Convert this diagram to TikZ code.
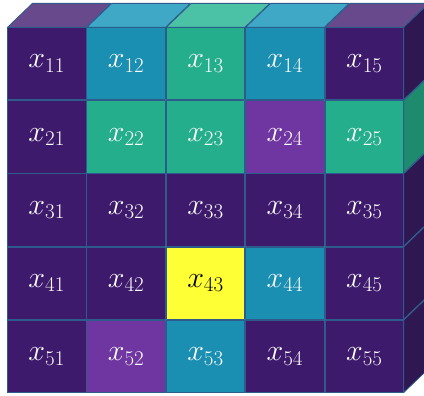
\documentclass[tikz,border=0pt]{standalone}
\usepackage{fix-cm}
\usepackage{amsmath}
\usepackage{xcolor}
\usepackage{tikz}
\usetikzlibrary{matrix,calc}
\definecolor{deep}{HTML}{3E1A6C}
\definecolor{ocean}{HTML}{1A8FB1}
\definecolor{jade}{HTML}{24AE8C}
\definecolor{plum}{HTML}{6F35A0}
\definecolor{lemon}{HTML}{FFFF36}
\definecolor{deeptop}{HTML}{684A8C}
\definecolor{oceantop}{HTML}{3FA8C6}
\definecolor{jadetop}{HTML}{4BC2A6}
\definecolor{deepside}{HTML}{2F1752}
\definecolor{jadeside}{HTML}{1E8B6E}
\definecolor{gridline}{HTML}{2D5B8C}
\tikzset{
    every picture/.style={line join=round},
    cell/.style={draw=gridline,fill=deep,line width=0.8pt,
      minimum width=78.6pt,minimum height=72.4pt,inner sep=0pt,outer sep=0pt,
      text=white,font=\fontsize{30}{34}\selectfont,anchor=center},
    oc/.style={fill=ocean},
    jd/.style={fill=jade},
    pl/.style={fill=plum},
    lm/.style={fill=lemon,text=black},
    face/.style={draw=gridline,line width=0.8pt}
}

\begin{document}
\begin{tikzpicture}[x=1pt,y=1pt]
    \clip (-7,-3) rectangle (417,393);
    \matrix (grid) [matrix of math nodes,nodes={cell},anchor=south west,
      inner sep=0pt,outer sep=0pt,column sep=0pt,row sep=0pt] at (0,0) {
      x_{11} & |[oc]| x_{12} & |[jd]| x_{13} & |[oc]| x_{14} & x_{15} \\
      x_{21} & |[jd]| x_{22} & |[jd]| x_{23} & |[pl]| x_{24} & |[jd]| x_{25} \\
      x_{31} & x_{32} & x_{33} & x_{34} & x_{35} \\
      x_{41} & x_{42} & |[lm]| x_{43} & |[oc]| x_{44} & x_{45} \\
      x_{51} & |[pl]| x_{52} & |[oc]| x_{53} & x_{54} & x_{55} \\
    };
    % top faces of the first row
    \foreach \j/\c in {1/deeptop,2/oceantop,3/jadetop,4/oceantop,5/deeptop}
      \draw[face,fill=\c] (grid-1-\j.north west) -- (grid-1-\j.north east)
        -- ([shift={(25,24)}]grid-1-\j.north east)
        -- ([shift={(25,24)}]grid-1-\j.north west) -- cycle;
    % side faces of the last column
    \foreach \i/\c in {1/deepside,2/jadeside,3/deepside,4/deepside,5/deepside}
      \draw[face,fill=\c] (grid-\i-5.north east) -- (grid-\i-5.south east)
        -- ([shift={(25,24)}]grid-\i-5.south east)
        -- ([shift={(25,24)}]grid-\i-5.north east) -- cycle;
\end{tikzpicture}
\end{document}
